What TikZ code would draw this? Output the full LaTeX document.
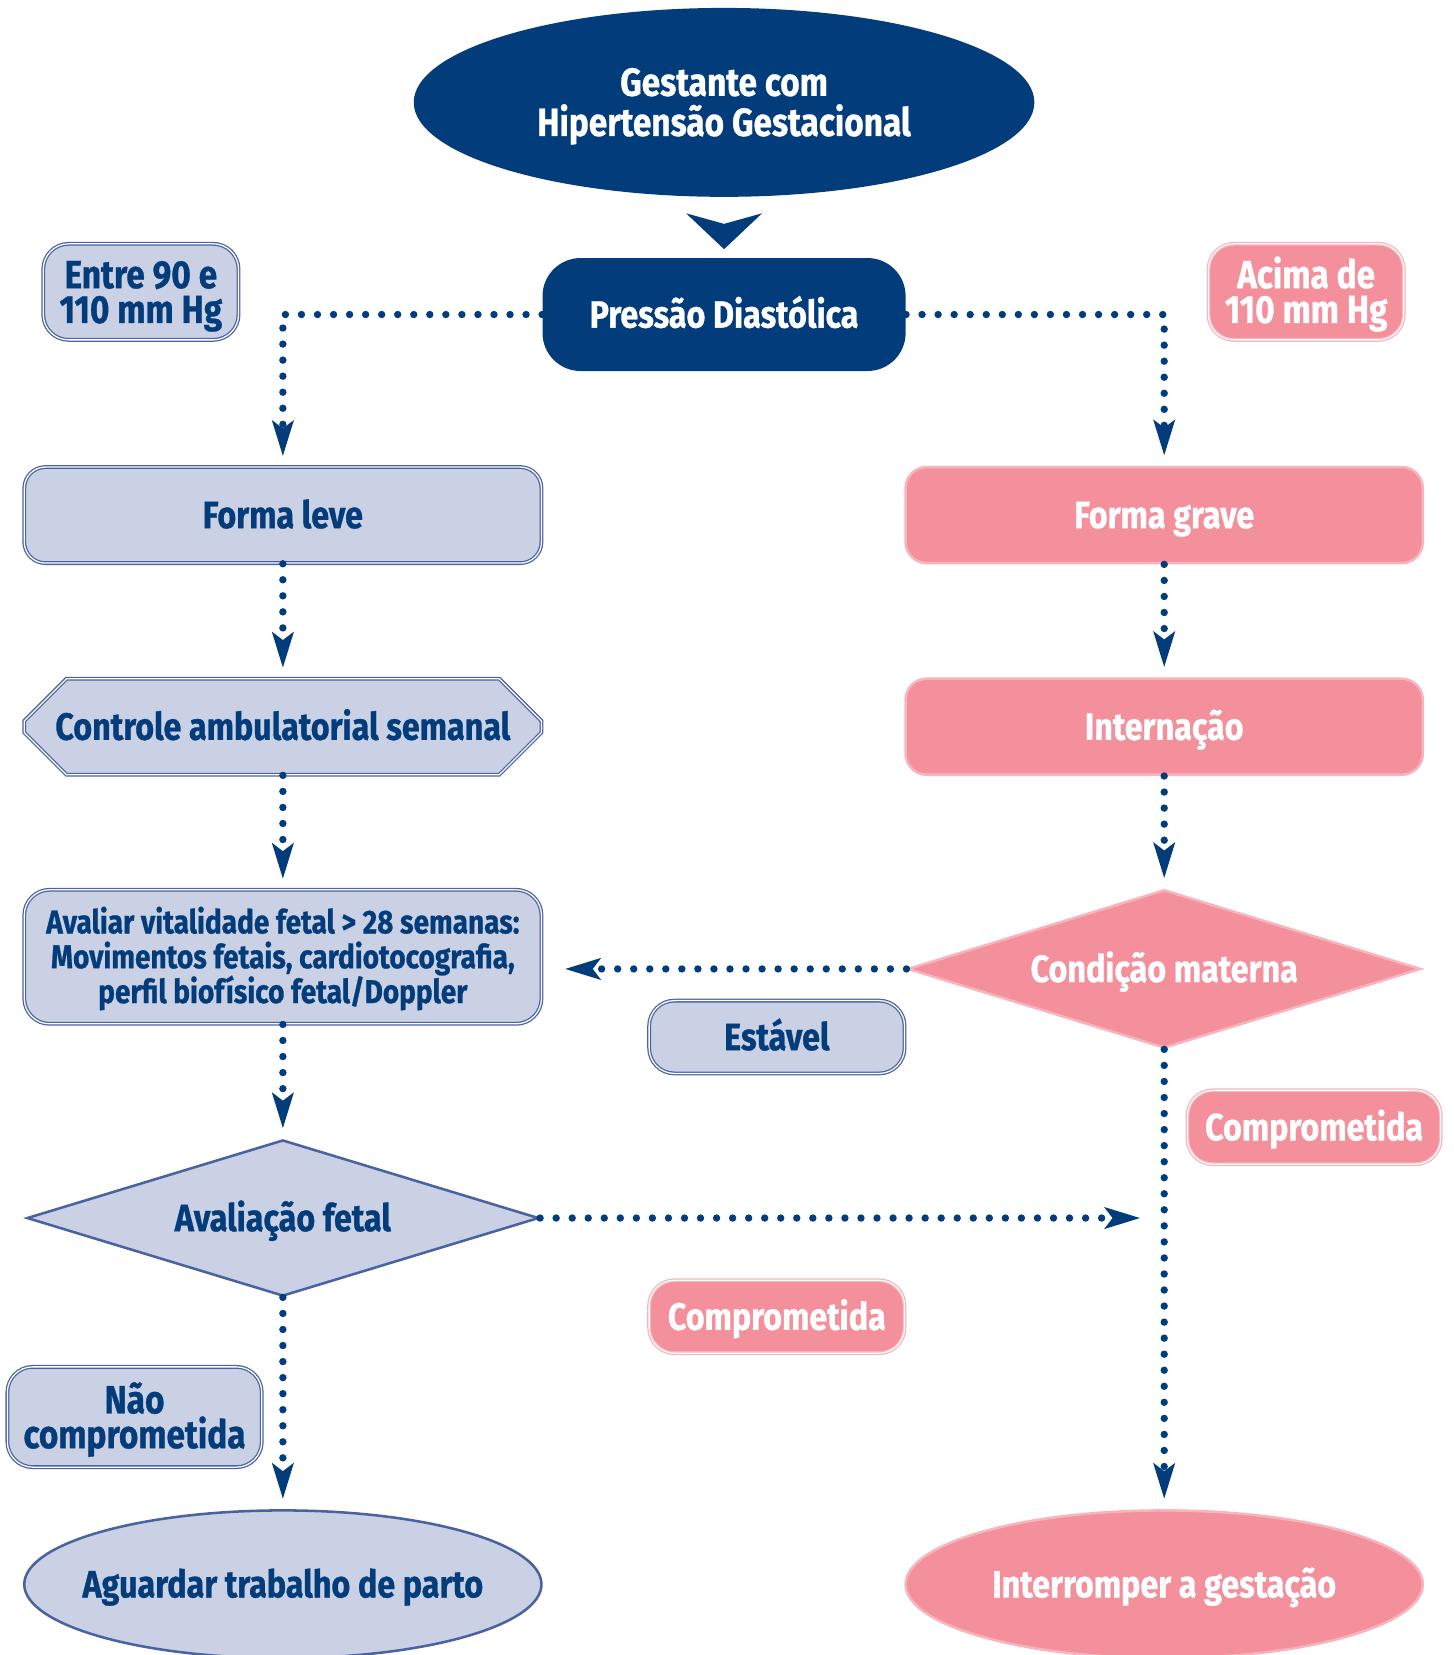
\documentclass[tikz,border=0pt]{standalone}
\usepackage{fontspec}
\setmainfont{Fira Sans}[FakeStretch=0.85,FakeBold=0.8]
\usetikzlibrary{shapes.geometric,shapes.misc,arrows.meta,calc}
\definecolor{navy}{RGB}{3,60,122}
\definecolor{lblue}{RGB}{202,209,228}
\definecolor{bblue}{RGB}{75,98,160}
\definecolor{pinkf}{RGB}{243,144,155}
\definecolor{pinkb}{RGB}{247,180,188}
\newcommand{\mytopst}[1]{\rule{0pt}{#1}}
\newcommand{\mybotst}[1]{\rule[-#1]{0pt}{#1}}
\begin{document}
\begin{tikzpicture}[x=0.5pt,y=-0.5pt,
  every node/.style={align=center, inner sep=0pt},
  mainfont/.style={font=\bfseries\fontsize{18}{21}\selectfont, text height=17.4pt, text depth=5pt},
  labelfont/.style={font=\bfseries\fontsize{18.6}{16.5}\selectfont},
  colbox/.style={minimum width=245pt, minimum height=45.5pt},
  lightbox/.style={fill=lblue, draw=bblue, line width=0.6pt, double=white, double distance=0.6pt, text=navy},
  pinkbox/.style={fill=pinkf, draw=pinkb, line width=1.2pt, text=white},
  lightlabel/.style={lightbox, rounded corners=12pt},
  pinklabel/.style={fill=pinkf, draw=pinkb, line width=0.6pt, double=white, double distance=0.6pt, text=white, rounded corners=12pt},
  conn/.style={navy, line width=3.5pt, line cap=round, dash pattern=on 0pt off 7.6pt,
    -{Stealth[length=17pt,width=10.5pt,inset=4pt,line width=0pt]}, shorten >=5pt},
]
\useasboundingbox (0,0) rectangle (1377,1568);

% top
\node[ellipse, fill=navy, text=white, minimum width=294pt, minimum height=89.5pt,
  font=\bfseries\fontsize{18.6}{19}\selectfont] (top) at (686,97) {\mytopst{18.8pt}Gestante com\\Hipertensão Gestacional\mybotst{6pt}};
\node[rectangle, rounded corners=18pt, fill=navy, text=white, minimum width=172pt, minimum height=53.5pt, mainfont] (pd) at (686,298) {Pressão Diastólica};
\fill[navy] ($(pd.north)+(-36,-42)$) -- ($(pd.north)+(0,-32)$) -- ($(pd.north)+(36,-42)$) -- ($(pd.north)+(0,-8)$) -- cycle;

% labels
\node[lightlabel, labelfont, minimum width=92.5pt, minimum height=45.5pt] (l90) at (133.5,276.5) {\mytopst{19pt}Entre 90 e\\110 mm Hg\mybotst{6pt}};
\node[pinklabel, labelfont, minimum width=92.5pt, minimum height=45.5pt] (l110) at (1237.5,276.5) {\mytopst{19pt}Acima de\\110 mm Hg\mybotst{6pt}};

% left column
\node[lightbox, colbox, rounded corners=10pt, mainfont] (fl) at (268,488) {Forma leve};
\node[lightbox, colbox, chamfered rectangle, chamfered rectangle xsep=10pt, chamfered rectangle ysep=10pt, mainfont] (cas) at (268,688.5) {Controle ambulatorial semanal};
\node[lightbox, minimum width=245pt, minimum height=63.5pt, rounded corners=12pt,
  font=\bfseries\fontsize{15.6}{16.5}\selectfont] (av) at (268,906.5) {\mytopst{15.8pt}Avaliar vitalidade fetal > 28 semanas:\\Movimentos fetais, cardiotocografia,\\perfil biofísico fetal/Doppler\mybotst{5pt}};
\node[diamond, fill=lblue, draw=bblue, line width=1.2pt, text=navy, minimum width=242.5pt, minimum height=74pt, shape aspect=3.27, mainfont] (af) at (268,1154) {Avaliação fetal};
\node[ellipse, fill=lblue, draw=bblue, line width=1.2pt, text=navy, minimum width=245pt, minimum height=70pt, inner xsep=-15pt, mainfont] (ag) at (268,1501) {Aguardar trabalho de parto};

% right column
\node[pinkbox, colbox, rounded corners=10pt, mainfont] (fg) at (1103,488) {Forma grave};
\node[pinkbox, colbox, rounded corners=10pt, mainfont] (int) at (1103,688.5) {Internação};
\node[diamond, fill=pinkf, draw=pinkb, line width=1.2pt, text=white, minimum width=243pt, minimum height=75pt, shape aspect=3.24, mainfont] (cm) at (1103,918) {Condição materna};
\node[ellipse, fill=pinkf, draw=pinkb, line width=1.2pt, text=white, minimum width=245pt, minimum height=70pt, inner xsep=-15pt, mainfont] (ig) at (1103,1501) {Interromper a gestação};

% branch labels
\node[lightlabel, minimum width=121pt, minimum height=34.5pt, mainfont] (est) at (736,982.5) {Estável};
\node[pinklabel, minimum width=120pt, minimum height=35pt, mainfont] (comp1) at (1245,1068) {Comprometida};
\node[pinklabel, minimum width=121pt, minimum height=34.5pt, mainfont] (comp2) at (736,1247.5) {Comprometida};
\node[lightlabel, labelfont, minimum width=120.5pt, minimum height=47.5pt] (nc) at (127.5,1342.5) {\mytopst{19pt}Não\\comprometida\mybotst{6pt}};

\coordinate (afend) at (1080,1154);

% connectors
\draw[conn] (pd.west) -| (fl.north);
\draw[conn] (pd.east) -| (fg.north);
\draw[conn] (fl.south) -- (cas.north);
\draw[conn] (fg.south) -- (int.north);
\draw[conn] (cas.south) -- (av.north);
\draw[conn] (int.south) -- (cm.north);
\draw[conn] (av.south) -- (af.north);
\draw[conn, shorten >=11pt] (cm.west) -- (cm.west -| av.east);
\draw[conn] (cm.south) -- (ig.north);
\draw[conn, shorten >=0pt] (af.east) -- (afend);
\draw[conn] (af.south) -- (ag.north);
\end{tikzpicture}
\end{document}
